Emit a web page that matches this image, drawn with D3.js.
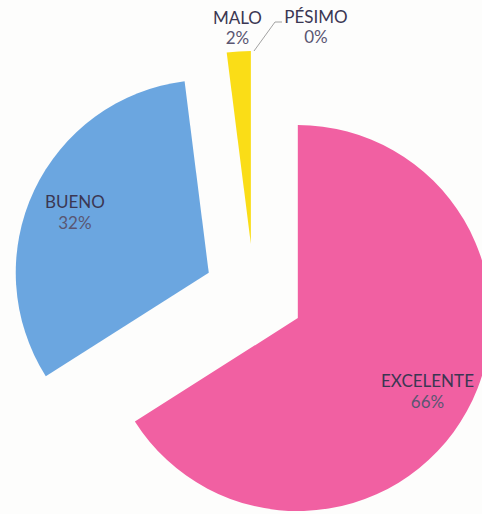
<!DOCTYPE html>
<html>
<head>
<meta charset="utf-8">
<script src="https://cdn.jsdelivr.net/npm/d3@7"></script>
<style>
  html, body { margin: 0; padding: 0; background: #fdfdfc; }
  svg { display: block; }
  text { font-family: "Lato", "Noto Sans", sans-serif; }
</style>
</head>
<body>
<svg id="pie"></svg>
<script>
const categories = ["EXCELENTE", "BUENO", "MALO", "PÉSIMO"];
const values = [66, 32, 2, 0];
const colors = ["#f160a2", "#6ba6e0", "#fadd17", "#999999"];

const config = {
    width: 482,
    height: 514,
    cx: 254,
    cy: 294,
    radius: 193,
    explode: 50,
    labelRadius: 148,
    fontSize: '17px'
};

let svg = d3.select('#pie')
    .attr('width', config.width)
    .attr('height', config.height);

const data = categories.map((c, i) => ({ name: c, value: values[i], color: colors[i] }));

const pie = d3.pie()
    .sort(null)
    .value(d => d.value)
    .startAngle(0)
    .endAngle(2 * Math.PI);

const arc = d3.arc()
    .innerRadius(0)
    .outerRadius(config.radius);

const arcs = pie(data);

// offset of each slice along its middle angle
const shift = (d, r) => {
    const a = (d.startAngle + d.endAngle) / 2;
    return [Math.sin(a) * r, -Math.cos(a) * r];
};

let g = svg.append('g')
    .attr('transform', `translate(${config.cx},${config.cy})`);

let slices = g.selectAll('g.slice')
    .data(arcs)
    .enter()
    .append('g')
    .attr('class', 'slice')
    .attr('transform', d => {
        const [dx, dy] = shift(d, config.explode);
        return `translate(${dx},${dy})`;
    });

slices.filter(d => d.value > 0)
    .append('path')
    .attr('d', arc)
    .style('fill', d => d.data.color);

// two-line label: name + percent
const addLabel = (sel, xy, dy1, dy2, anchor) => {
    sel.append('text')
        .attr('text-anchor', anchor)
        .attr('x', d => xy(d)[0])
        .attr('y', d => xy(d)[1] + dy1)
        .style('font-size', config.fontSize)
        .style('fill', '#3b3753')
        .text(d => d.data.name);
    sel.append('text')
        .attr('text-anchor', anchor)
        .attr('x', d => xy(d)[0])
        .attr('y', d => xy(d)[1] + dy2)
        .style('font-size', config.fontSize)
        .style('fill', '#5a5672')
        .text(d => d.data.value + '%');
};

// inside labels for the big slices
addLabel(slices.filter(d => d.value >= 10), d => shift(d, config.labelRadius), -2, 19, 'middle');

// MALO label above its slice
addLabel(slices.filter(d => d.value > 0 && d.value < 10), d => shift(d, 214), -7, 13, 'middle');

// PÉSIMO (0%) with a leader line
const zero = slices.filter(d => d.value === 0);
const edge = d => [Math.sin(d.startAngle) * config.radius, -Math.cos(d.startAngle) * config.radius];
zero.append('polyline')
    .attr('points', d => {
        const [x0, y0] = edge(d);
        const x1 = x0 + 21, y1 = y0 - 29;
        return [[x0, y0], [x1, y1], [x1 + 7, y1]].map(p => p.join(',')).join(' ');
    })
    .style('fill', 'none')
    .style('stroke', '#8a8a8a')
    .style('stroke-width', 0.8);
addLabel(zero, d => [edge(d)[0] + 62, edge(d)[1]], -28, -8, 'middle');
</script>
</body>
</html>
